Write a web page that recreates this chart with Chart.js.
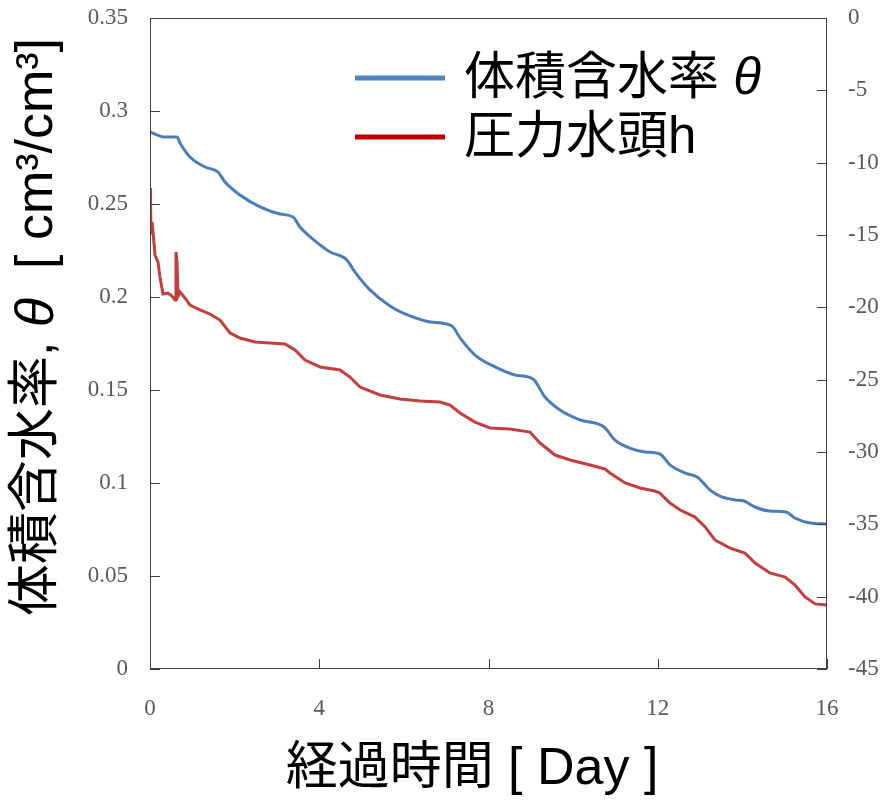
<!DOCTYPE html>
<html lang="ja">
<head>
<meta charset="UTF-8">
<title>体積含水率と圧力水頭</title>
<script src="https://cdn.jsdelivr.net/npm/chart.js"></script>
<style>
	html, body { margin: 0; padding: 0; background: #fff; }
	canvas { display: block; }
</style>
</head>
<body>
<canvas id="chart" width="885" height="803"></canvas>
<script>
// 体積含水率 θ (左軸)
const thetaDays = [0, 0.355, 0.638, 0.709, 0.945, 1.30, 1.607, 1.773, 2.127, 2.600,
	3.072, 3.380, 3.545, 4.018, 4.254, 4.632, 4.845, 5.199, 5.672, 6.145,
	6.618, 7.137, 7.327, 7.681, 8.154, 8.626, 9.052, 9.335, 9.690, 10.16,
	10.73, 10.99, 11.34, 11.70, 12.05, 12.29, 12.64, 12.93, 13.24, 13.47,
	13.83, 14.04, 14.30, 14.65, 15.03, 15.24, 15.60, 16.0];
const thetaValues = [0.2887, 0.2860, 0.2860, 0.2828, 0.2753, 0.2699, 0.2672, 0.2618, 0.2548, 0.2484,
	0.2446, 0.2430, 0.2376, 0.2280, 0.2242, 0.2204, 0.2134, 0.2038, 0.1952, 0.1898,
	0.1866, 0.1844, 0.1780, 0.1688, 0.1624, 0.1581, 0.1559, 0.1462, 0.1392, 0.1339,
	0.1301, 0.1231, 0.1188, 0.1167, 0.1156, 0.1097, 0.1054, 0.1032, 0.0962, 0.0930,
	0.0909, 0.0903, 0.0871, 0.0849, 0.0844, 0.0812, 0.0785, 0.0780];

// 圧力水頭 h (右軸)
const headDays = [0, 0.012, 0.024, 0.047, 0.071, 0.118, 0.189, 0.236, 0.307, 0.425,
	0.520, 0.591, 0.614, 0.638, 0.662, 0.709, 0.827, 0.945, 1.182, 1.418,
	1.654, 1.891, 2.127, 2.482, 2.836, 3.190, 3.427, 3.663, 4.018, 4.491,
	4.727, 4.963, 5.436, 5.909, 6.381, 6.854, 7.090, 7.327, 7.681, 8.036,
	8.508, 8.981, 9.217, 9.572, 9.926, 10.40, 10.75, 10.87, 11.23, 11.58,
	11.93, 12.05, 12.29, 12.53, 12.88, 13.12, 13.35, 13.71, 14.06, 14.30,
	14.65, 15.01, 15.24, 15.48, 15.72, 16.0];
const headValues = [-11.75, -12.58, -14.86, -14.10, -14.79, -16.38, -16.87, -17.90, -19.08, -19.01,
	-19.22, -19.49, -16.17, -16.87, -19.22, -18.94, -19.35, -19.84, -20.18, -20.46,
	-20.88, -21.77, -22.12, -22.40, -22.47, -22.53, -22.95, -23.64, -24.12, -24.33,
	-24.82, -25.51, -26.06, -26.34, -26.47, -26.54, -26.75, -27.30, -27.93, -28.34,
	-28.41, -28.62, -29.38, -30.21, -30.55, -30.90, -31.17, -31.45, -32.14, -32.49,
	-32.70, -32.84, -33.53, -34.01, -34.50, -35.18, -36.08, -36.64, -36.98, -37.67,
	-38.36, -38.64, -39.19, -40.02, -40.50, -40.57];

const dayTicks = [0, 4, 8, 12, 16];
const thetaTicks = [0, 0.05, 0.1, 0.15, 0.2, 0.25, 0.3, 0.35];
const headTicks = [0, -5, -10, -15, -20, -25, -30, -35, -40, -45];

const legendLabels = ['体積含水率 ', '圧力水頭h'];

const SANS = '"Liberation Sans", "Noto Sans CJK JP", sans-serif';
const tickFont = { family: '"Liberation Serif", "DejaVu Serif", serif', size: 23 };
const tickColor = '#595959';

function fmt(v) { return String(+v.toFixed(2)); }

// 混在フォントのテキストを左から描く
function runsWidth(ctx, runs) {
	let w = 0;
	runs.forEach(r => { ctx.font = r.font; w += ctx.measureText(r.text).width; });
	return w;
}
function drawRuns(ctx, runs, x, y) {
	runs.forEach(r => {
		ctx.font = r.font;
		ctx.fillText(r.text, x, y);
		x += ctx.measureText(r.text).width;
	});
}

const framePlugin = {
	id: 'frame',
	afterDraw(chart) {
		const ctx = chart.ctx;
		const a = chart.chartArea;
		const sx = chart.scales.x, sy = chart.scales.y, sy2 = chart.scales.y2;
		ctx.save();
		ctx.strokeStyle = '#404040';
		ctx.lineWidth = 1;
		ctx.strokeRect(a.left + 0.5, a.top + 0.5, a.right - a.left - 1, a.bottom - a.top - 1);
		ctx.beginPath();
		thetaTicks.forEach(v => {
			const p = Math.round(sy.getPixelForValue(v)) + 0.5;
			ctx.moveTo(a.left, p); ctx.lineTo(a.left + 10, p);
		});
		headTicks.forEach(v => {
			const p = Math.round(sy2.getPixelForValue(v)) + 0.5;
			ctx.moveTo(a.right - 10, p); ctx.lineTo(a.right, p);
		});
		dayTicks.forEach(v => {
			const p = Math.round(sx.getPixelForValue(v)) + 0.5;
			ctx.moveTo(p, a.bottom); ctx.lineTo(p, a.bottom - 10);
		});
		ctx.stroke();

		ctx.fillStyle = '#000';
		ctx.textBaseline = 'middle';
		ctx.textAlign = 'left';

		// 縦軸タイトル
		const yRuns = [
			{ text: '体積含水率, ', font: '52px ' + SANS },
			{ text: 'θ', font: 'italic 54px ' + SANS },
			{ text: '  [ cm³/cm³]', font: '52px ' + SANS }
		];
		const yw = runsWidth(ctx, yRuns);
		ctx.save();
		ctx.translate(38, 327);
		ctx.rotate(-Math.PI / 2);
		drawRuns(ctx, yRuns, -yw / 2, 0);
		ctx.restore();

		// 横軸タイトル
		const xRuns = [{ text: '経過時間 [ Day ]', font: '52px ' + SANS }];
		const xw = runsWidth(ctx, xRuns);
		drawRuns(ctx, xRuns, 472 - xw / 2, 770);

		// 凡例
		const colors = ['#4f81bd', '#c00000'];
		const rows = [78, 137];
		rows.forEach((y, i) => {
			ctx.strokeStyle = colors[i];
			ctx.lineWidth = 5;
			ctx.beginPath();
			ctx.moveTo(355, y); ctx.lineTo(445, y);
			ctx.stroke();
			const runs = [{ text: legendLabels[i], font: '51px ' + SANS }];
			if (i === 0) runs.push({ text: 'θ', font: 'italic 51px ' + SANS });
			drawRuns(ctx, runs, 464, y + 2);
		});
		ctx.restore();
	}
};

function noPad(s) { s.paddingTop = 0; s.paddingBottom = 0; s.paddingLeft = 0; s.paddingRight = 0; }

new Chart(document.getElementById('chart'), {
	type: 'line',
	data: {
		datasets: [{
			label: '体積含水率 θ',
			data: thetaDays.map((d, i) => ({ x: d, y: thetaValues[i] })),
			yAxisID: 'y',
			borderColor: '#4a7ebb',
			borderWidth: 3,
			pointRadius: 0,
			cubicInterpolationMode: 'monotone'
		}, {
			label: '圧力水頭h',
			data: headDays.map((d, i) => ({ x: d, y: headValues[i] })),
			yAxisID: 'y2',
			borderColor: '#c43e3e',
			borderWidth: 3,
			pointRadius: 0,
			tension: 0
		}]
	},
	options: {
		responsive: false,
		animation: false,
		devicePixelRatio: 1,
		layout: { padding: { top: 18 } },
		plugins: { legend: { display: false }, tooltip: { enabled: false } },
		scales: {
			x: {
				type: 'linear', min: 0, max: 16,
				afterBuildTicks: s => { s.ticks = dayTicks.map(v => ({ value: v })); },
				afterFit: s => { s.height = 134; noPad(s); },
				grid: { display: false, drawTicks: false },
				border: { display: false },
				ticks: { font: tickFont, color: tickColor, padding: 26, maxRotation: 0, callback: fmt }
			},
			y: {
				position: 'left', min: 0, max: 0.35,
				afterBuildTicks: s => { s.ticks = thetaTicks.map(v => ({ value: v })); },
				afterFit: s => { s.width = 150; noPad(s); },
				grid: { display: false, drawTicks: false },
				border: { display: false },
				ticks: { font: tickFont, color: tickColor, padding: 22, callback: fmt }
			},
			y2: {
				position: 'right', min: -45, max: 0,
				afterBuildTicks: s => { s.ticks = headTicks.map(v => ({ value: v })); },
				afterFit: s => { s.width = 58; noPad(s); },
				grid: { display: false, drawTicks: false },
				border: { display: false },
				ticks: { font: tickFont, color: tickColor, padding: 21, callback: fmt }
			}
		}
	},
	plugins: [framePlugin]
});
</script>
</body>
</html>
